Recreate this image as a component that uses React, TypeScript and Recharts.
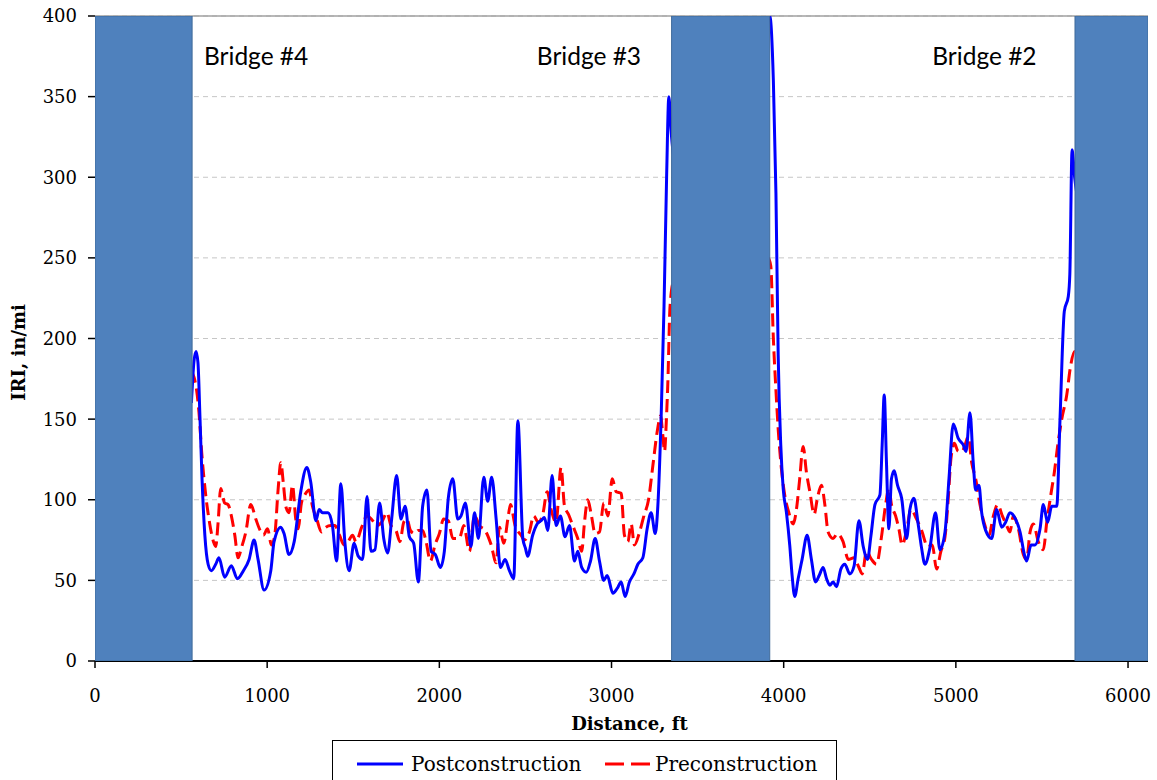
import React from 'react';
import {
  LineChart, Line, XAxis, YAxis, CartesianGrid, ReferenceArea, ReferenceLine, ReferenceDot,
} from 'recharts';

// Distance (ft) and IRI (in/mi) — postconstruction
const postDist = [
  560, 575, 587, 598, 610, 622, 638, 657, 676, 701, 720, 753, 792, 827, 862, 895, 924, 947, 982,
  1021, 1040, 1079, 1098, 1127, 1157, 1195, 1230, 1253, 1283, 1302, 1321, 1354, 1379, 1403, 1428,
  1451, 1476, 1505, 1529, 1554, 1580, 1603, 1626, 1653, 1677, 1700, 1723, 1752, 1777, 1801, 1826,
  1851, 1878, 1903, 1928, 1952, 1977, 2006, 2029, 2052, 2078, 2107, 2126, 2151, 2184, 2204, 2227,
  2258, 2281, 2304, 2330, 2355, 2382, 2407, 2432, 2456, 2485, 2500, 2513, 2542, 2568, 2591, 2610,
  2630, 2655, 2678, 2703, 2730, 2756, 2785, 2804, 2827, 2853, 2878, 2905, 2930, 2955, 2975, 3008,
  3033, 3056, 3079, 3104, 3130, 3153, 3182, 3207, 3230, 3254, 3269, 3289, 3305, 3320, 3333, 3345,
  3370, 3900, 3919, 3940, 3955, 3968, 3983, 3997, 4016, 4035, 4049, 4064, 4084, 4107, 4136, 4161,
  4185, 4206, 4229, 4249, 4268, 4287, 4307, 4332, 4355, 4384, 4409, 4437, 4462, 4487, 4506, 4530,
  4559, 4572, 4584, 4597, 4611, 4626, 4642, 4661, 4685, 4714, 4733, 4756, 4781, 4801, 4820, 4849,
  4882, 4907, 4937, 4960, 4985, 5014, 5043, 5059, 5082, 5101, 5115, 5134, 5150, 5173, 5208, 5237,
  5266, 5289, 5314, 5347, 5373, 5398, 5411, 5437, 5460, 5489, 5508, 5533, 5557, 5586, 5605, 5630,
  5653, 5662, 5675, 5690, 5720, 6100, 6116,
];
const postIRI = [
  160, 186, 192, 185, 150, 112, 78, 60, 56, 60, 64, 52, 59, 51, 56, 63, 75, 63, 44,
  56, 74, 83, 79, 66, 74, 105, 120, 111, 87, 94, 92, 92, 84, 62, 110,
  74, 56, 73, 65, 63, 102, 68, 69, 98, 76, 67, 88, 115, 88, 96, 77,
  73, 49, 96, 106, 68, 66, 58, 68, 101, 113, 88, 90, 98, 71, 92, 76,
  114, 99, 114, 88, 58, 63, 56, 51, 149, 76, 70, 65, 78, 85, 87, 89,
  81, 115, 84, 90, 77, 84, 62, 68, 58, 55, 62, 76, 62, 50, 53, 42,
  45, 49, 40, 49, 54, 60, 64, 82, 92, 79, 96, 154, 220, 300, 350, 330,
  310, 400, 400, 360, 290, 190, 134, 107, 92, 72, 53, 40, 51, 63, 78, 63,
  49, 53, 58, 51, 47, 49, 46, 57, 60, 54, 59, 87, 71, 63, 77, 97,
  103, 134, 165, 123, 82, 113, 118, 109, 101, 76, 94, 101, 85, 70, 60, 70,
  92, 69, 80, 113, 147, 138, 134, 130, 154, 123, 106, 109, 92, 81, 76, 94,
  83, 86, 92, 88, 80, 66, 62, 72, 72, 82, 97, 86, 96, 96, 150, 217,
  226, 240, 317, 300, 280, 190, 188,
];

// Distance (ft) and IRI (in/mi) — preconstruction
const preDist = [
  555, 575, 590, 604, 620, 643, 662, 688, 701, 715, 730, 753, 773, 792, 812, 831, 850, 876, 905,
  934, 959, 978, 1002, 1025, 1044, 1064, 1079, 1095, 1108, 1127, 1147, 1166, 1180, 1199, 1219, 1244,
  1263, 1288, 1315, 1341, 1370, 1393, 1420, 1447, 1470, 1496, 1516, 1549, 1580, 1613, 1638, 1665,
  1696, 1719, 1748, 1771, 1793, 1812, 1832, 1855, 1878, 1903, 1923, 1948, 1975, 2000, 2025, 2052,
  2078, 2116, 2142, 2175, 2204, 2233, 2266, 2301, 2330, 2349, 2374, 2398, 2413, 2440, 2475, 2494,
  2523, 2548, 2575, 2601, 2626, 2649, 2678, 2707, 2727, 2750, 2775, 2804, 2827, 2843, 2862, 2882,
  2905, 2930, 2955, 2979, 3004, 3027, 3056, 3075, 3095, 3114, 3133, 3163, 3188, 3215, 3240, 3265,
  3285, 3298, 3308, 3318, 3327, 3340, 3360, 3910, 3925, 3940, 3955, 3968, 3987, 4006, 4030, 4055,
  4074, 4093, 4113, 4132, 4152, 4177, 4196, 4219, 4239, 4258, 4287, 4312, 4345, 4375, 4409, 4437,
  4456, 4481, 4510, 4539, 4568, 4592, 4611, 4626, 4650, 4669, 4688, 4714, 4739, 4772, 4801, 4836,
  4863, 4888, 4913, 4937, 4956, 4971, 4991, 5014, 5037, 5053, 5072, 5092, 5115, 5140, 5169, 5192,
  5218, 5243, 5270, 5295, 5314, 5334, 5363, 5392, 5411, 5431, 5450, 5479, 5508, 5528, 5553, 5572,
  5592, 5615, 5644, 5665, 5690, 5720, 6100, 6116,
];
const preIRI = [
  180, 176, 168, 154, 129, 103, 88, 74, 71, 86, 107, 98, 97, 90, 78, 64, 70, 80, 97,
  88, 81, 78, 82, 72, 78, 107, 123, 109, 96, 92, 109, 88, 82, 98, 103, 106,
  96, 88, 80, 83, 84, 84, 78, 72, 74, 78, 74, 83, 90, 87, 84, 86,
  92, 84, 81, 74, 86, 88, 81, 79, 81, 81, 74, 62, 72, 79, 88, 87,
  76, 76, 84, 68, 90, 84, 81, 72, 61, 83, 73, 88, 97, 84, 78, 75,
  80, 90, 86, 91, 105, 94, 86, 120, 96, 91, 84, 76, 68, 86, 100, 91,
  79, 80, 98, 90, 113, 105, 104, 78, 74, 85, 72, 80, 90, 100, 121, 142,
  152, 140, 130, 148, 172, 220, 235, 250, 245, 200, 168, 144, 119, 103, 92, 85,
  94, 113, 133, 117, 105, 91, 101, 109, 97, 80, 76, 79, 74, 63, 64, 58,
  54, 68, 63, 60, 77, 97, 107, 97, 90, 82, 72, 81, 94, 88, 81, 71,
  72, 57, 68, 77, 101, 125, 135, 130, 130, 134, 139, 123, 113, 97, 84, 78,
  90, 97, 90, 84, 80, 90, 82, 66, 63, 80, 85, 74, 69, 86, 104, 117,
  134, 150, 165, 182, 192, 190, 170, 168,
];

const xTicks = [0, 1000, 2000, 3000, 4000, 5000, 6000];
const yTicks = [0, 50, 100, 150, 200, 250, 300, 350, 400];

// Bridge spans (ft) and their text labels
const bridgeStart = [0, 3349, 5692];
const bridgeEnd = [564, 3919, 6116];
const bridgeNames = ['Bridge #4', 'Bridge #3', 'Bridge #2'];
const bridgeLabelDist = [936, 2869, 5166];
const bridgeLabelIRI = 375;

const postData = postDist.map((d, i) => ({ dist: d, iri: postIRI[i] }));
const preData = preDist.map((d, i) => ({ dist: d, iri: preIRI[i] }));

const SERIF = '"DejaVu Serif", serif';

const YLabel = (props: any) => {
  const vb = props.viewBox || { x: 0, y: 0, width: 0, height: 0 };
  const cx = vb.x + 18;
  const cy = vb.y + vb.height / 2 + 14;
  return (
    <text x={cx} y={cy} transform={`rotate(-90, ${cx}, ${cy})`} textAnchor="middle"
      dominantBaseline="central" fontFamily={SERIF} fontWeight="bold" fontSize={18} fill="#000">
      IRI, in/mi
    </text>
  );
};

const XLabel = (props: any) => {
  const vb = props.viewBox || { x: 0, y: 0, width: 0, height: 0 };
  const cx = vb.x + vb.width / 2 + 8;
  const cy = vb.y + 62;
  return (
    <text x={cx} y={cy} textAnchor="middle" dominantBaseline="central"
      fontFamily={SERIF} fontWeight="bold" fontSize={18} fill="#000">
      Distance, ft
    </text>
  );
};

export default function App() {
  return (
    <div style={{ position: 'absolute', left: 0, top: 0, width: 1157, height: 780, overflow: 'hidden', background: '#fff' }}>
      <LineChart width={1157} height={780} margin={{ top: 16, right: 9, bottom: 0, left: 0 }}>
        <CartesianGrid vertical={false} strokeDasharray="5 4" stroke="#C6C6C6" />
        <XAxis
          dataKey="dist"
          type="number"
          domain={[0, 6116]}
          ticks={xTicks}
          allowDataOverflow
          height={119}
          tickSize={7}
          tickMargin={21}
          axisLine={{ stroke: '#000', strokeWidth: 2 }}
          tickLine={{ stroke: '#000', strokeWidth: 1.5 }}
          tick={{ fontFamily: SERIF, fontSize: 18, fill: '#000' }}
          label={<XLabel />}
        />
        <YAxis
          type="number"
          domain={[0, 400]}
          ticks={yTicks}
          allowDataOverflow
          width={95}
          tickSize={7}
          tickMargin={11}
          axisLine={false}
          tickLine={{ stroke: '#000', strokeWidth: 1.5 }}
          tick={{ fontFamily: SERIF, fontSize: 18, fill: '#000' }}
          label={<YLabel />}
        />
        <ReferenceLine y={400} stroke="#A0A0A0" strokeWidth={1.5} />
        <Line data={preData} dataKey="iri" type="monotone" stroke="#FF0000" strokeWidth={3}
          strokeDasharray="13 6" dot={false} isAnimationActive={false} name="Preconstruction" />
        <Line data={postData} dataKey="iri" type="monotone" stroke="#0000FF" strokeWidth={3}
          dot={false} isAnimationActive={false} name="Postconstruction" />
        {bridgeStart.map((s, i) => (
          <ReferenceArea key={'b' + i} x1={s} x2={bridgeEnd[i]} y1={0} y2={400}
            fill="#4F81BD" fillOpacity={1} stroke="#3F6A9A" strokeWidth={1} ifOverflow="hidden"
            {...({ zIndex: 1000 } as any)} />
        ))}
        {bridgeNames.map((n, i) => (
          <ReferenceDot key={'l' + i} x={bridgeLabelDist[i]} y={bridgeLabelIRI} r={0}
            fill="none" stroke="none"
            label={{ value: n, position: 'center', fontFamily: 'Lato, "Open Sans", sans-serif', fontSize: 24.5, fill: '#000' }} />
        ))}
      </LineChart>
      <div style={{
        position: 'absolute', left: 332, top: 740, width: 505, height: 60, border: '1px solid #000',
        background: '#fff', boxSizing: 'border-box', fontFamily: SERIF, fontSize: 20, color: '#000',
      }}>
        <div style={{ position: 'absolute', left: 24, top: 11, display: 'flex', alignItems: 'center', whiteSpace: 'nowrap' }}>
          <svg width={48} height={10} style={{ marginRight: 6 }}>
            <line x1={0} y1={5} x2={46} y2={5} stroke="#0000FF" strokeWidth={3} />
          </svg>
          <span>Postconstruction</span>
        </div>
        <div style={{ position: 'absolute', left: 272, top: 11, display: 'flex', alignItems: 'center', whiteSpace: 'nowrap' }}>
          <svg width={48} height={10} style={{ marginRight: 2 }}>
            <line x1={0} y1={5} x2={46} y2={5} stroke="#FF0000" strokeWidth={3} strokeDasharray="19 7" />
          </svg>
          <span>Preconstruction</span>
        </div>
      </div>
    </div>
  );
}
